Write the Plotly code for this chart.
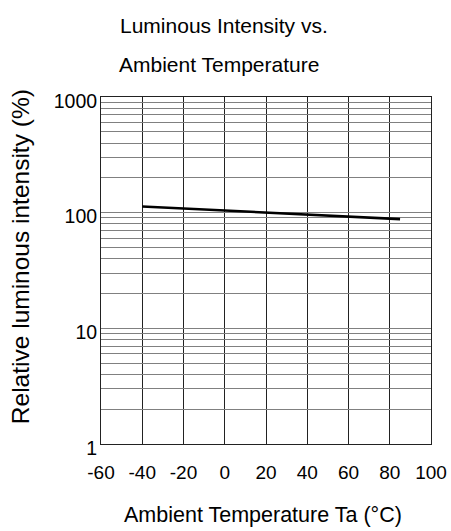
import plotly.graph_objects as go

# Data
temperature = [-40, -20, 0, 25, 40, 60, 85]
rel_intensity = [113, 108.5, 104.3, 99.5, 96.3, 92.4, 88]

x_tickvals = [-60, -40, -20, 0, 20, 40, 60, 80, 100]
x_ticktext = ["-60", "-40", "-20", "0", "20", "40", "60", "80", "100"]

decades = [1, 10, 100]
decade_labels = {1: "1", 10: "10", 100: "100", 1000: "1000"}

y_tickvals = [d * m for d in decades for m in range(1, 10)] + [1000]
y_ticktext = [decade_labels.get(v, "") for v in y_tickvals]

title_lines = ["Luminous Intensity vs.", "Ambient Temperature"]
x_title = "Ambient Temperature Ta (°C)"
y_title = "Relative luminous intensity (%)"

FONT = "Liberation Sans, Arial, sans-serif"

fig = go.Figure()
fig.add_trace(go.Scatter(
    x=temperature, y=rel_intensity, mode="lines",
    line=dict(color="black", width=2.6), showlegend=False,
    hoverinfo="skip",
))

W, H = 451, 531
L, T = 100.7, 97.3
R = W - 430.7
B = H - 444.0
pw, ph = W - L - R, H - T - B

def px_x(px):
    return (px - L) / pw

def px_y(py):
    return (H - B - py) / ph

fig.update_layout(
    width=W, height=H,
    margin=dict(l=L, r=R, t=T, b=B, pad=0, autoexpand=False),
    paper_bgcolor="white", plot_bgcolor="white",
    font=dict(family=FONT, color="black", size=19),
    xaxis=dict(
        range=[-60, 100], tickvals=x_tickvals, ticktext=x_ticktext,
        showgrid=True, gridcolor="#222222", gridwidth=1,
        showline=True, linecolor="#222222", linewidth=1, mirror=True,
        zeroline=False, ticks="", ticklabelstandoff=11, automargin=False,
        ticklabeloverflow="allow",
        tickfont=dict(size=19, family=FONT, color="black"),
    ),
    yaxis=dict(
        type="log", range=[0, 3], tickvals=y_tickvals, ticktext=y_ticktext,
        showgrid=True, gridcolor="#808080", gridwidth=1.2,
        showline=True, linecolor="#222222", linewidth=1, mirror=True,
        zeroline=False, ticks="", ticklabelstandoff=-1, ticklabelshift=4,
        automargin=False,
        tickfont=dict(size=19.5, family=FONT, color="black"),
    ),
)

annos = [
    dict(text=title_lines[0], x=px_x(224), y=px_y(26), size=21),
    dict(text=title_lines[1], x=px_x(219), y=px_y(65), size=21),
    dict(text=x_title, x=px_x(263), y=px_y(515), size=21.5),
]
for a in annos:
    fig.add_annotation(
        text=a["text"], x=a["x"], y=a["y"], xref="paper", yref="paper",
        xanchor="center", yanchor="middle", showarrow=False,
        font=dict(size=a["size"], family=FONT, color="black"),
    )
fig.add_annotation(
    text=y_title, x=px_x(21), y=px_y(257), xref="paper", yref="paper",
    xanchor="center", yanchor="middle", showarrow=False, textangle=-90,
    font=dict(size=24.5, family=FONT, color="black"),
)

fig.write_html(
    "out.html",
    config={"displayModeBar": False},
    post_script="document.body.style.margin='0';document.body.style.overflow='hidden';",
)
